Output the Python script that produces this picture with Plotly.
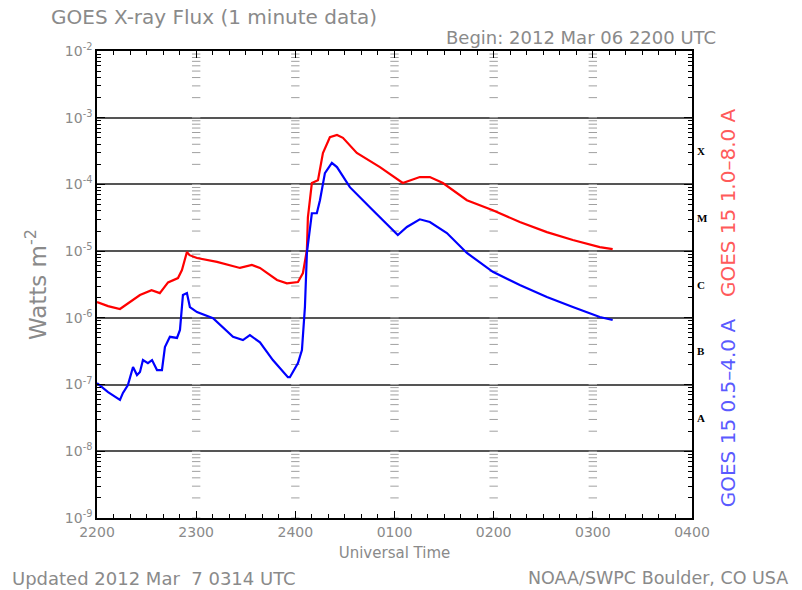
import plotly.graph_objects as go

# Minutes after 2012 Mar 06 2200 UTC
long_t = [0, 6.7, 13.9, 20, 26, 33, 38, 43, 49, 51.4, 54.4, 56, 60.5, 72.6, 86.5, 93.7, 98.6,
          108.9, 114.9, 121.6, 124.6, 127, 127.6, 130, 133.7, 136.7, 140.9, 145.2, 148.8, 157.2,
          171.2, 185, 195.3, 201.4, 209.3, 223.8, 239.5, 255.8, 272.2, 287.9, 304.2, 312]
long_flux = [1.73e-6, 1.50e-6, 1.36e-6, 1.73e-6, 2.2e-6, 2.6e-6, 2.35e-6, 3.4e-6, 3.95e-6, 5.2e-6,
             9.7e-6, 8.7e-6, 7.9e-6, 6.9e-6, 5.6e-6, 6.2e-6, 5.6e-6, 3.7e-6, 3.3e-6, 3.45e-6, 4.7e-6,
             1.04e-5, 3.2e-5, 1.05e-4, 1.16e-4, 2.96e-4, 5.1e-4, 5.5e-4, 5.0e-4, 2.96e-4, 1.82e-4,
             1.05e-4, 1.29e-4, 1.29e-4, 1.05e-4, 5.8e-5, 4.1e-5, 2.73e-5, 1.93e-5, 1.47e-5, 1.15e-5,
             1.07e-5]

short_t = [0, 6.7, 13.9, 15.7, 18.7, 21.8, 24.2, 26, 27.8, 30.8, 33.3, 36.3, 39.3, 41.1, 44.1,
           48.4, 50.2, 52, 54.4, 56.2, 60.5, 70.2, 82.3, 88.3, 92.5, 98.6, 106.4, 115.5, 116.7,
           121.6, 124, 125.8, 127, 130, 133, 134.9, 137.9, 142.1, 145.2, 153, 166.9, 182, 187.5,
           195.3, 201.4, 211.7, 223.8, 239.5, 255.8, 272.2, 287.9, 304.2, 312]
short_flux = [1.05e-7, 7.7e-8, 5.9e-8, 7.5e-8, 9.8e-8, 1.83e-7, 1.39e-7, 1.54e-7, 2.33e-7, 2.1e-7,
              2.33e-7, 1.65e-7, 1.65e-7, 3.65e-7, 5.2e-7, 5.0e-7, 6.6e-7, 2.2e-6, 2.35e-6, 1.45e-6,
              1.22e-6, 9.9e-7, 5.2e-7, 4.65e-7, 5.5e-7, 4.3e-7, 2.33e-7, 1.29e-7, 1.29e-7, 2.1e-7,
              3.3e-7, 1.45e-6, 9.4e-6, 3.7e-5, 3.7e-5, 5.8e-5, 1.48e-4, 2.1e-4, 1.82e-4, 9.1e-5,
              4.1e-5, 1.74e-5, 2.3e-5, 3.0e-5, 2.73e-5, 1.87e-5, 9.4e-6, 4.9e-6, 3.1e-6, 2.05e-6,
              1.45e-6, 1.03e-6, 9.3e-7]

x_tick_vals = [0, 60, 120, 180, 240, 300, 360]
x_tick_text = ["2200", "2300", "2400", "0100", "0200", "0300", "0400"]
y_exponents = [-9, -8, -7, -6, -5, -4, -3, -2]
flare_classes = ["X", "M", "C", "B", "A"]
flare_exps = [-3.5, -4.5, -5.5, -6.5, -7.5]

GRAY = "#8a8a8a"
FONT = "DejaVu Sans"

y_tick_vals = [10.0 ** e for e in y_exponents]
y_tick_text = ["10<sup>%d</sup>" % e for e in y_exponents]
y_minor = [k * 10.0 ** e for e in y_exponents[:-1] for k in range(2, 10)]

fig = go.Figure()

# log-ruler dashes at each hour column
rx, ry = [], []
for h in x_tick_vals[1:-1]:
    for e in y_exponents[:-1]:
        for k in range(1, 10):
            rx.append(h)
            ry.append(k * 10.0 ** e)
fig.add_trace(go.Scatter(x=rx, y=ry, mode="markers", hoverinfo="skip", showlegend=False,
                         marker=dict(symbol="line-ew", size=6, color="#a0a0a0",
                                     line=dict(width=1, color="#a0a0a0"))))

fig.add_trace(go.Scatter(x=long_t, y=long_flux, mode="lines", showlegend=False,
                         line=dict(color="#ff0000", width=2.2), name="GOES 15 1.0-8.0 A"))
fig.add_trace(go.Scatter(x=short_t, y=short_flux, mode="lines", showlegend=False,
                         line=dict(color="#0000ff", width=2.2), name="GOES 15 0.5-4.0 A"))

fig.update_layout(
    width=802, height=590,
    margin=dict(l=97, r=110, t=51, b=72, autoexpand=False),
    paper_bgcolor="white", plot_bgcolor="white",
    font=dict(family=FONT, color=GRAY, size=14),
)

fig.update_xaxes(
    range=[0, 360], tickmode="array", tickvals=x_tick_vals, ticktext=x_tick_text,
    ticks="inside", ticklen=7, tickcolor="black", tickwidth=1,
    showline=True, linecolor="black", linewidth=1.5, mirror="ticks",
    showgrid=False, zeroline=False, automargin=False,
    tickfont=dict(size=14, color=GRAY, family=FONT),
    minor=dict(ticks="inside", ticklen=4, tickcolor="black", tickwidth=1, dtick=10, tick0=0),
    title=dict(text="Universal Time", font=dict(size=15, color=GRAY), standoff=9),
)

fig.update_yaxes(
    type="log", range=[-9, -2], tickmode="array", tickvals=y_tick_vals, ticktext=y_tick_text,
    ticks="inside", ticklen=8, tickcolor="black", tickwidth=1,
    showline=True, linecolor="black", linewidth=1.5, mirror="ticks",
    showgrid=True, gridcolor="#555555", gridwidth=1.5, zeroline=False, automargin=False,
    tickfont=dict(size=14, color=GRAY, family=FONT),
    minor=dict(ticks="inside", ticklen=4, tickcolor="black", tickwidth=1, tickvals=y_minor),
    title=dict(text="Watts m<sup>-2</sup>", font=dict(size=23, color=GRAY), standoff=12),
)

ann = []
ann.append(dict(text="GOES X-ray Flux (1 minute data)", xref="paper", yref="paper",
                x=-0.081, y=1.0, yshift=34, xanchor="left", yanchor="middle", showarrow=False,
                font=dict(size=20, color=GRAY)))
ann.append(dict(text="Begin: 2012 Mar 06 2200 UTC", xref="paper", yref="paper",
                x=1.044, y=1.0, yshift=14, xanchor="right", yanchor="middle", showarrow=False,
                font=dict(size=18, color=GRAY)))
ann.append(dict(text="Updated 2012 Mar  7 0314 UTC", xref="paper", yref="paper",
                x=-0.146, y=0, yshift=-60, xanchor="left", yanchor="middle", showarrow=False,
                font=dict(size=18, color=GRAY)))
ann.append(dict(text="NOAA/SWPC Boulder, CO USA", xref="paper", yref="paper",
                x=1.165, y=0, yshift=-60, xanchor="right", yanchor="middle", showarrow=False,
                font=dict(size=17.5, color=GRAY)))
for c, e in zip(flare_classes, flare_exps):
    ann.append(dict(text="<b>%s</b>" % c, xref="paper", yref="y", x=1.0, y=e, xshift=3,
                    xanchor="left", yanchor="middle", showarrow=False,
                    font=dict(size=11, color="black", family="Liberation Serif")))
ann.append(dict(text="GOES 15 1.0\u20138.0 A", xref="paper", yref="y", x=1.0, y=-4.28,
                xshift=36, xanchor="center", yanchor="middle", textangle=-90, showarrow=False,
                font=dict(size=20, color="#ff5a5a")))
ann.append(dict(text="GOES 15 0.5\u20134.0 A", xref="paper", yref="y", x=1.0, y=-7.43,
                xshift=36, xanchor="center", yanchor="middle", textangle=-90, showarrow=False,
                font=dict(size=20, color="#5a5aff")))
fig.update_layout(annotations=ann)

fig.write_html("out.html", config={"displayModeBar": False},
               post_script="document.body.style.margin='0';")
